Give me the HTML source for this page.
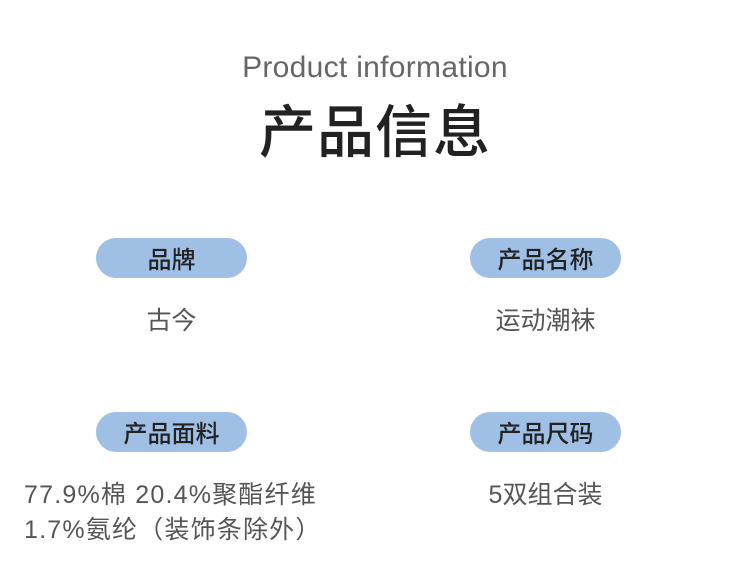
<!DOCTYPE html>
<html><head><meta charset="utf-8"><style>
body{margin:0;width:750px;height:561px;background:#fff;position:relative;overflow:hidden;font-family:"Liberation Sans","Noto Sans CJK SC",sans-serif}
.a{position:absolute;white-space:nowrap}
.en{left:0;width:750px;text-align:center;top:51px;font-size:30px;color:#666;letter-spacing:0.3px}
.t{left:0;width:750px;text-align:center;top:88px;font-size:57px;color:#222;font-family:"Noto Sans CJK SC",sans-serif;font-weight:500;line-height:80px;letter-spacing:1px}
.p{width:151px;height:40px;border-radius:20px;background:#9fbfe5;color:#222;font-size:24px;line-height:40px;text-align:center;font-family:"Noto Sans CJK SC",sans-serif;font-weight:500}
.v{font-size:25px;color:#555;line-height:35px}
.m{font-size:25px;color:#555;line-height:35px;letter-spacing:1.2px}
</style></head><body>
<div class="a en">Product information</div>
<div class="a t">产品信息</div>
<div class="a p" style="left:96px;top:238px">品牌</div>
<div class="a p" style="left:470px;top:238px">产品名称</div>
<div class="a p" style="left:96px;top:412px">产品面料</div>
<div class="a p" style="left:470px;top:412px">产品尺码</div>
<div class="a v" style="left:96px;width:151px;text-align:center;top:304px">古今</div>
<div class="a v" style="left:470px;width:151px;text-align:center;top:304px">运动潮袜</div>
<div class="a v" style="left:470px;width:151px;text-align:center;top:478px">5双组合装</div>
<div class="a m" style="left:24px;top:478px">77.9%棉 20.4%聚酯纤维</div>
<div class="a m" style="left:24px;top:513px">1.7%氨纶（装饰条除外）</div>
</body></html>
